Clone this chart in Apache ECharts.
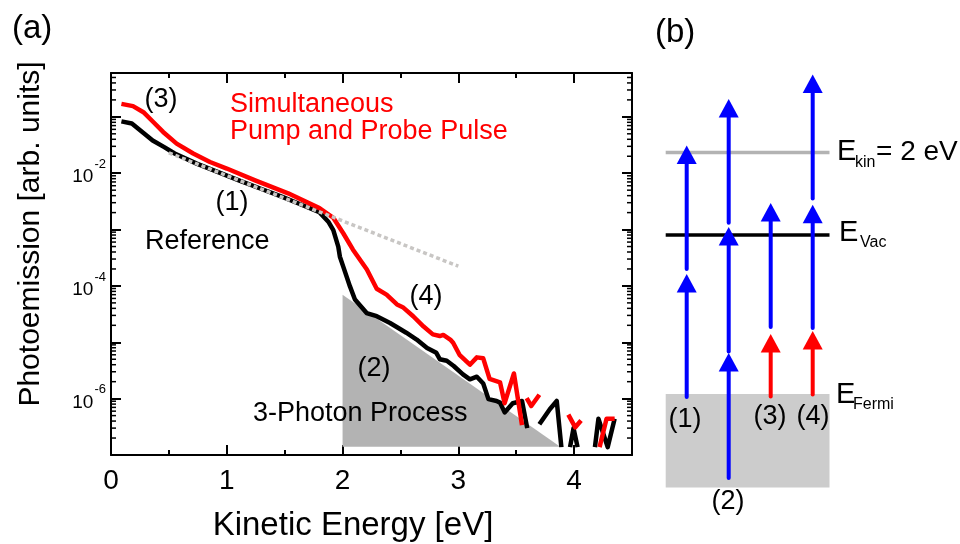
<!DOCTYPE html>
<html><head><meta charset="utf-8">
<script src="https://cdn.jsdelivr.net/npm/echarts@6/dist/echarts.min.js"></script>
<style>html,body{margin:0;padding:0;background:#fff}#c{width:960px;height:544px}</style>
</head><body><div id="c"></div>
<script>
// ---------- Panel (a) data ----------
const xTickValues = [0, 1, 2, 3, 4];
const yTickExponents = [-2, -4, -6];
const minorMultipliers = [2, 3, 4, 5, 6, 7, 8, 9];
const minorDecades = [1e-7, 1e-6, 1e-5, 1e-4, 1e-3, 1e-2, 1e-1];

// Reference (black) spectrum: kinetic energy [eV] and intensity; null = gap
const blackE = [0.09,0.18,0.27,0.36,0.46,0.55,0.74,0.92,1.11,1.30,1.48,1.62,1.80,1.877,1.92,1.963,1.977,2.006,2.064,2.107,2.208,2.295,2.41,2.50,2.55,2.64,2.73,2.81,2.84,2.90,2.96,3.04,3.10,3.16,3.215,3.26,3.33,3.36,3.40,3.47,3.55,3.595,3.65,3.70,3.79,3.85,3.89,3.93,3.965,3.995,4.03,4.10,4.18,4.21,4.29,4.35];
const blackI = [8.3e-2,7.6e-2,5.4e-2,3.8e-2,2.9e-2,2.24e-2,1.48e-2,1.06e-2,7.4e-3,5.25e-3,3.8e-3,2.9e-3,2.04e-3,1.38e-3,9.8e-4,5.0e-4,3.3e-4,2.2e-4,9.8e-5,5.75e-5,3.3e-5,2.9e-5,2.2e-5,1.7e-5,1.48e-5,1.12e-5,7.9e-6,6.5e-6,5.0e-6,4.7e-6,3.8e-6,2.7e-6,2.2e-6,2.45e-6,1.86e-6,9.8e-7,9.1e-7,8.5e-7,5.7e-7,8.3e-7,9.1e-7,3.0e-7,null,3.5e-7,6.5e-7,9.1e-7,1.38e-7,null,1.38e-7,3.0e-7,1.38e-7,null,1.38e-7,4.4e-7,1.38e-7,4.4e-7];

// Simultaneous pump and probe (red) spectrum
const redE = [0.09,0.19,0.28,0.365,0.45,0.567,0.71,0.855,1.0,1.25,1.53,1.80,1.92,2.006,2.09,2.21,2.295,2.38,2.47,2.52,2.61,2.70,2.78,2.84,2.87,2.93,2.955,3.01,3.10,3.16,3.215,3.27,3.36,3.40,3.48,3.55,3.57,3.59,3.63,3.70,3.80,3.95,4.01,4.06,4.15,4.22,4.28,4.35];
const redI = [0.17,0.155,0.121,8.1e-2,5.4e-2,3.35e-2,2.24e-2,1.58e-2,1.21e-2,7.4e-3,4.4e-3,2.4e-3,1.62e-3,8.6e-4,4.4e-4,1.95e-4,8.9e-5,7.0e-5,4.7e-5,4.2e-5,2.9e-5,1.9e-5,1.38e-5,1.29e-5,1.35e-5,1.12e-5,9.8e-6,6.0e-6,4.0e-6,5.4e-6,5.2e-6,2.24e-6,1.95e-6,8.3e-7,2.8e-6,3.4e-7,null,1.02e-6,7.4e-7,1.17e-6,null,5.2e-7,3.1e-7,4.1e-7,null,1.38e-7,4.4e-7,4.4e-7];

// dotted reference extrapolation
const refLineE = [0.5, 3.0];
const refLineI = [0.0229, 2.24e-4];

// shaded 3-photon process region
const processE = [2.0, 2.0, 3.88];
const processI = [1.4e-7, 7.0e-5, 1.4e-7];

// ---------- Panel (b) data (energies in eV relative to E_Fermi) ----------
const levelE = [6.04, 3.975];          // E_kin = 2 eV line, E_Vac
const levelColor = ['#b3b3b3', '#000000'];
const boxRange = [-2.34, 0];            // occupied states below E_Fermi
const columnRange = [0.5, 4.4];
const arrowCol   = [1, 1, 2, 2, 2, 3, 3, 4, 4, 4];
const arrowStart = [-0.075, 3.125, -2.1, 1.0625, 4.28, -0.065, 1.675, -0.0125, 1.65, 4.89];
const arrowEnd   = [3.0, 6.21, 1.025, 4.175, 7.375, 1.5, 4.775, 1.575, 4.73, 7.985];
const arrowColor = ['#0000ff','#0000ff','#0000ff','#0000ff','#0000ff','#ff0000','#0000ff','#ff0000','#0000ff','#0000ff'];

// ---------- build ----------
const FONT = '"Liberation Sans", Arial, Helvetica, sans-serif';
function pairs(xs, ys) { return xs.map((x, i) => [x, ys[i] == null ? '-' : ys[i]]); }
const minorValues = [];
minorDecades.forEach(d => minorMultipliers.forEach(m => { const v = m * d; if (v < 0.5995) minorValues.push(v); }));

function txt(text, x, y, size, color, align, rotation) {
  return { type: 'text', x: x, y: y, z: 100, rotation: rotation || 0,
    style: { text: text, fontSize: size, fontFamily: FONT, fill: color || '#000', align: align || 'left', verticalAlign: 'middle' } };
}

const chart = echarts.init(document.getElementById('c'), null, { renderer: 'canvas', width: 960, height: 544 });

const xCommon = {
  type: 'value', gridIndex: 0, min: 0, max: 4.5, interval: 1,
  axisLine: { show: true, onZero: false, lineStyle: { color: '#000', width: 2 } },
  axisTick: { show: true, inside: true, length: 10, lineStyle: { color: '#000', width: 2 } },
  minorTick: { show: true, splitNumber: 2, length: 5, lineStyle: { color: '#000', width: 2 } },
  splitLine: { show: false }, minorSplitLine: { show: false }
};
const yCommon = {
  type: 'log', logBase: 10, gridIndex: 0, min: 1e-7, max: 0.6, interval: 1,
  axisLine: { show: true, onZero: false, lineStyle: { color: '#000', width: 2 } },
  axisTick: { show: true, inside: true, length: 10, lineStyle: { color: '#000', width: 2 } },
  splitLine: { show: false }
};

const option = {
  animation: false,
  backgroundColor: '#fff',
  textStyle: { fontFamily: FONT },
  grid: [
    { left: 111, right: 328, top: 73, bottom: 89, outerBoundsMode: 'none', containLabel: false },
    { left: 665.7, width: 163.8, top: 54, height: 440, outerBoundsMode: 'none', containLabel: false }
  ],
  xAxis: [
    Object.assign({}, xCommon, {
      position: 'bottom',
      axisLabel: { show: true, fontSize: 28, color: '#000', margin: 12, fontFamily: FONT,
        formatter: v => (xTickValues.indexOf(v) >= 0 ? String(v) : '') }
    }),
    Object.assign({}, xCommon, { position: 'top', axisLabel: { show: false } }),
    { type: 'value', gridIndex: 1, min: columnRange[0], max: columnRange[1], show: false }
  ],
  yAxis: [
    Object.assign({}, yCommon, {
      position: 'left',
      axisLabel: { show: true, margin: 5, color: '#000', fontFamily: FONT,
        formatter: v => {
          const e = Math.round(Math.log10(v));
          if (Math.abs(v / Math.pow(10, e) - 1) > 1e-6) return '';
          return yTickExponents.indexOf(e) >= 0 ? '{b|10}{s|' + e + '}' : '';
        },
        rich: {
          b: { fontSize: 19, color: '#000', fontFamily: FONT, padding: [8, 0, 0, 0] },
          s: { fontSize: 13, color: '#000', fontFamily: FONT, padding: [0, 0, 18, 1] }
        }
      }
    }),
    Object.assign({}, yCommon, { position: 'right', axisLabel: { show: false } }),
    { type: 'value', gridIndex: 1, min: -2.5, max: 8.5, show: false }
  ],
  series: [
    { // 3-photon process shading
      type: 'custom', xAxisIndex: 0, yAxisIndex: 0, z: 1, silent: true,
      data: [[processE[0], processI[0]]],
      renderItem: (params, api) => ({
        type: 'polygon',
        shape: { points: processE.map((e, i) => api.coord([e, processI[i]])) },
        style: { fill: '#b3b3b3' }
      })
    },
    {
      type: 'line', name: 'Reference', xAxisIndex: 0, yAxisIndex: 0, z: 3,
      data: pairs(blackE, blackI), showSymbol: false, symbol: 'none', connectNulls: false,
      lineStyle: { color: '#000', width: 4.5, join: 'round' }
    },
    {
      type: 'line', name: 'Simultaneous Pump and Probe Pulse', xAxisIndex: 0, yAxisIndex: 0, z: 4,
      data: pairs(redE, redI), showSymbol: false, symbol: 'none', connectNulls: false,
      lineStyle: { color: '#ff0000', width: 4.5, join: 'round' }
    },
    {
      type: 'line', xAxisIndex: 0, yAxisIndex: 0, z: 5,
      data: pairs(refLineE, refLineI), showSymbol: false, symbol: 'none',
      lineStyle: { color: '#c8c6c4', width: 3.5, type: [4, 3] }
    },
    { // log minor ticks on left and right frame
      type: 'custom', xAxisIndex: 0, yAxisIndex: 0, z: 6, silent: true,
      data: minorValues.map(v => [0, v]),
      renderItem: (params, api) => {
        const v = api.value(1);
        const l = api.coord([0, v]);
        const r = api.coord([4.5, v]);
        return { type: 'group', children: [
          { type: 'line', shape: { x1: l[0], y1: l[1], x2: l[0] + 5, y2: l[1] }, style: { stroke: '#000', lineWidth: 1.5 } },
          { type: 'line', shape: { x1: r[0] - 5, y1: r[1], x2: r[0], y2: r[1] }, style: { stroke: '#000', lineWidth: 1.5 } }
        ] };
      }
    },
    { // panel (b): occupied states box
      type: 'custom', xAxisIndex: 2, yAxisIndex: 2, z: 1, silent: true,
      data: [[columnRange[0], boxRange[0]]],
      renderItem: (params, api) => {
        const p0 = api.coord([columnRange[0], boxRange[1]]);
        const p1 = api.coord([columnRange[1], boxRange[0]]);
        return { type: 'rect', shape: { x: p0[0], y: p0[1], width: p1[0] - p0[0], height: p1[1] - p0[1] }, style: { fill: '#cccccc' } };
      }
    },
    { // panel (b): energy levels
      type: 'custom', xAxisIndex: 2, yAxisIndex: 2, z: 2, silent: true,
      data: levelE.map(e => [columnRange[0], e]),
      renderItem: (params, api) => {
        const e = api.value(1);
        const a = api.coord([columnRange[0], e]);
        const b = api.coord([columnRange[1], e]);
        return { type: 'line', shape: { x1: a[0], y1: a[1], x2: b[0], y2: b[1] },
          style: { stroke: levelColor[params.dataIndex], lineWidth: 3.5 } };
      }
    },
    { // panel (b): photon arrows
      type: 'custom', xAxisIndex: 2, yAxisIndex: 2, z: 3, silent: true,
      data: arrowCol.map((c, i) => [c, arrowStart[i], arrowEnd[i]]),
      renderItem: (params, api) => {
        const c = api.value(0);
        const p0 = api.coord([c, api.value(1)]);
        const p1 = api.coord([c, api.value(2)]);
        const col = arrowColor[params.dataIndex];
        const hl = 18.5, hw = 10;
        return { type: 'group', children: [
          { type: 'line', shape: { x1: p0[0], y1: p0[1], x2: p1[0], y2: p1[1] + hl - 1 },
            style: { stroke: col, lineWidth: 4, lineCap: 'round' } },
          { type: 'polygon', shape: { points: [[p1[0], p1[1]], [p1[0] - hw, p1[1] + hl], [p1[0] + hw, p1[1] + hl]] },
            style: { fill: col } }
        ] };
      }
    }
  ],
  graphic: [
    txt('(a)', 12, 29, 33),
    txt('(b)', 655, 33, 33),
    txt('Photoemission [arb. units]', 31, 234, 30, '#000', 'center', Math.PI / 2),
    txt('Kinetic Energy [eV]', 353, 526, 33, '#000', 'center'),
    txt('(3)', 161, 100, 27, '#000', 'center'),
    txt('Simultaneous', 230, 105, 27, '#ff0000'),
    txt('Pump and Probe Pulse', 230, 132, 27, '#ff0000'),
    txt('(1)', 232, 203, 27, '#000', 'center'),
    txt('Reference', 145, 242, 27),
    txt('(4)', 426, 297, 27, '#000', 'center'),
    txt('(2)', 374, 369, 27, '#000', 'center'),
    txt('3-Photon Process', 253, 414, 27),
    txt('E', 837, 152, 29),
    txt('kin', 855, 163, 16),
    txt('= 2 eV', 876, 152, 28),
    txt('E', 839, 233, 29),
    txt('Vac', 860, 243, 16),
    txt('E', 836, 395, 29),
    txt('Fermi', 853, 405, 16),
    txt('(1)', 685, 420, 27, '#000', 'center'),
    txt('(2)', 728, 502, 27, '#000', 'center'),
    txt('(3)', 770, 417, 27, '#000', 'center'),
    txt('(4)', 813, 417, 27, '#000', 'center')
  ]
};
chart.setOption(option);
</script>
</body></html>
